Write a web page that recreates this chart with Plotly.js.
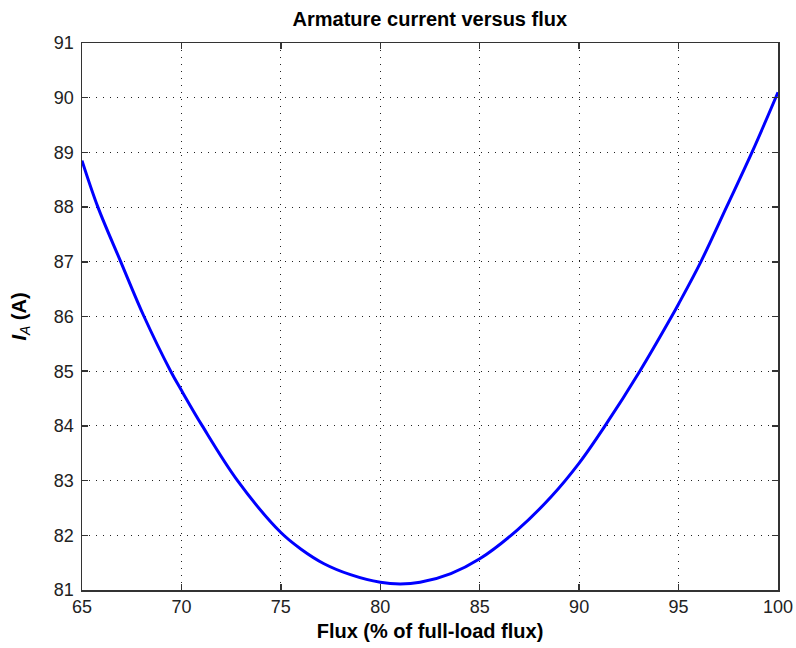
<!DOCTYPE html>
<html>
<head>
<meta charset="utf-8">
<script src="https://cdn.plot.ly/plotly-3.0.1.min.js"></script>
<style>html,body{margin:0;padding:0;background:#fff;}#chart{width:796px;height:648px;}</style>
</head>
<body>
<div id="chart"></div>
<script>
// Flux (% of full-load flux) and armature current I_A (A)
const flux = [65, 65.8, 66.95, 68.12, 69.46, 70, 71.05, 72.82, 75, 76, 77.17, 78.5, 80, 81, 82, 83.55, 85, 86.9, 88.58, 90, 91.3, 93.05, 94.65, 95, 96.12, 97.41, 98.69, 100];
const current = [88.85, 88, 87, 86, 85, 84.65, 84, 83, 82.05, 81.75, 81.48, 81.28, 81.14, 81.11, 81.14, 81.30, 81.57, 82.1, 82.7, 83.32, 84, 85, 86, 86.23, 87, 88, 89, 90.1];
const xTicks = [65, 70, 75, 80, 85, 90, 95, 100];
const yTicks = [81, 82, 83, 84, 85, 86, 87, 88, 89, 90, 91];

const font = 'Liberation Sans, Arial, Helvetica, sans-serif';
const axisCommon = {
  showline: true, linecolor: '#333', linewidth: 1.5, mirror: 'ticks',
  ticks: 'inside', ticklen: 6, tickwidth: 1.5, tickcolor: '#333',
  showgrid: true, gridcolor: '#222', gridwidth: 1, griddash: '1px,6px',
  zeroline: false, tickfont: {family: font, size: 18, color: '#222'}
};
const layout = {
  width: 796, height: 648,
  margin: {l: 82, r: 18, t: 43, b: 58},
  paper_bgcolor: '#fff', plot_bgcolor: '#fff',
  showlegend: false,
  title: {text: '<b>Armature current versus flux</b>', font: {family: font, size: 20, color: '#000'}, x: 0.54, xanchor: 'center', y: 0.97, yanchor: 'middle'},
  xaxis: Object.assign({}, axisCommon, {
    range: [65, 100], tickvals: xTicks, ticktext: xTicks.map(String),
    title: {text: '<b>Flux (% of full-load flux)</b>', font: {family: font, size: 20, color: '#000'}, standoff: 8}
  }),
  yaxis: Object.assign({}, axisCommon, {
    range: [81, 91], tickvals: yTicks, ticktext: yTicks.map(String), ticklabelstandoff: 3,
    title: {text: '<b><i>I</i></b><sub><i>A</i></sub><b> (A)</b>', font: {family: font, size: 20, color: '#000'}, standoff: 22}
  })
};
const data = [{
  x: flux, y: current, type: 'scatter', mode: 'lines',
  line: {color: '#0000ff', width: 3, shape: 'spline', smoothing: 1},
  hoverinfo: 'skip'
}];
Plotly.newPlot('chart', data, layout, {staticPlot: true});
</script>
</body>
</html>
